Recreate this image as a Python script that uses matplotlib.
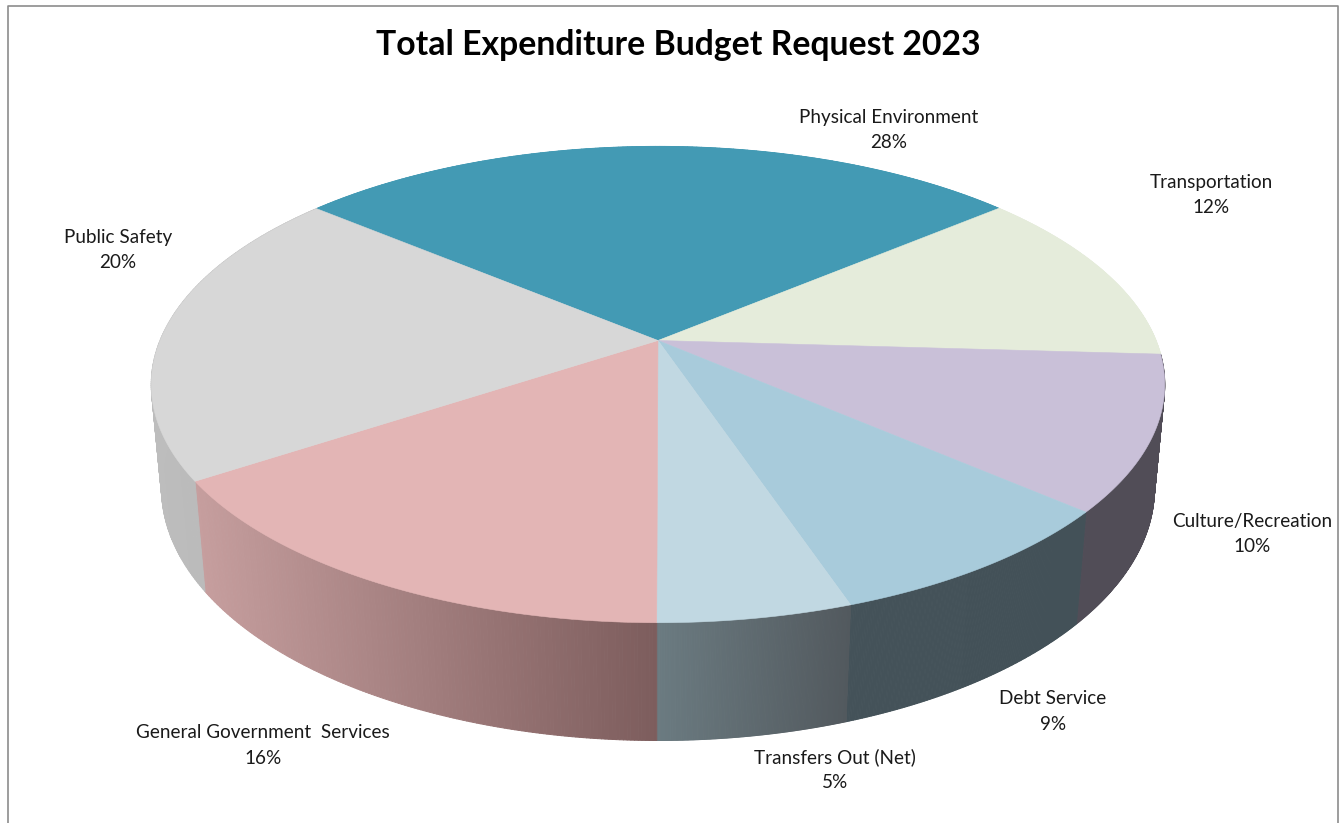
import numpy as np
import matplotlib
matplotlib.use('Agg')
import matplotlib.pyplot as plt
from matplotlib.collections import PolyCollection
from matplotlib.colors import to_rgb

title = 'Total Expenditure Budget Request 2023'
categories = ['Physical Environment', 'Transportation', 'Culture/Recreation', 'Debt Service',
              'Transfers Out (Net)', 'General Government  Services', 'Public Safety']
# shares measured off the drawn slices, the printed labels do not add up the same way
values = [27.8, 12.05, 10.45, 8.45, 5.2, 15.7, 20.35]
percent_labels = ['28%', '12%', '10%', '9%', '5%', '16%', '20%']
top_colors = ['#439AB4', '#E5ECDB', '#C9C0D8', '#A8CBDB', '#C1D8E2', '#E3B5B5', '#D7D7D7']
side_left = ['#439AB4', '#E5ECDB', '#514D57', '#445259', '#6B7B81', '#C69E9E', '#BDBDBD']
side_right = ['#439AB4', '#E5ECDB', '#514D57', '#435158', '#52595E', '#7D5D5D', '#B4B4B4']
label_x = [889, 1211, 1252, 1053, 835, 263, 118]
label_y = [117, 182, 521, 699, 757, 733, 237]

# perspective of the disc, worked out from the slice corners in the reference
CX, CY = 658, 340.5
A, B, K = 498, 230, 0.185
DROP_Y, DROP_W = 104, 0.02
START_ANGLE = 140.1


def project(theta, radius=1.0, depth=0.0):
    u = radius * np.cos(theta)
    v = radius * np.sin(theta)
    w = 1 + K * v + DROP_W * depth
    return CX + A * u / w, CY + (-B * v + DROP_Y * depth) / w


fig = plt.figure(figsize=(13.41, 8.23), dpi=100)
ax = fig.add_axes([0, 0, 1, 1])
ax.set_xlim(0, 1341)
ax.set_ylim(823, 0)
ax.axis('off')

# chart frame
ax.plot([8, 8, 1338, 1338], [823, 6, 6, 823], color='#8C8C8C', lw=1.2, zorder=0)

shares = np.array(values) / sum(values) * 360
ends = START_ANGLE - np.cumsum(shares)
starts = ends + shares

# sides first, the top disc then covers everything at the back
for i in range(len(values)):
    t = np.radians(np.linspace(starts[i], ends[i], 160))
    x0, y0 = project(t)
    x1, y1 = project(t, depth=1.0)
    quads = [[(x0[j], y0[j]), (x0[j + 1], y0[j + 1]), (x1[j + 1], y1[j + 1]), (x1[j], y1[j])]
             for j in range(len(t) - 1)]
    left = np.array(to_rgb(side_left[i]))
    right = np.array(to_rgb(side_right[i]))
    span = max(x0.max() - x0.min(), 1)
    cols = [left + (right - left) * (x0[j] - x0.min()) / span for j in range(len(t) - 1)]
    ax.add_collection(PolyCollection(quads, facecolors=cols, edgecolors=cols, linewidths=0.7, zorder=2))

for i in range(len(values)):
    t = np.radians(np.linspace(starts[i], ends[i], 200))
    x, y = project(t)
    ax.fill(np.r_[CX, x], np.r_[CY, y], color=top_colors[i], lw=0.4, zorder=3)

for i, name in enumerate(categories):
    ax.text(label_x[i], label_y[i], name, ha='center', va='center', family='Lato',
            fontsize=13.6, color='#1A1A1A', zorder=5)
    ax.text(label_x[i], label_y[i] + 25, percent_labels[i], ha='center', va='center', family='Lato',
            fontsize=13.6, color='#1A1A1A', zorder=5)

ax.text(678, 45, title, ha='center', va='center', family='Lato', fontsize=24.3,
        fontweight='bold', color='black', zorder=5)

fig.savefig('out.png', dpi=100)
